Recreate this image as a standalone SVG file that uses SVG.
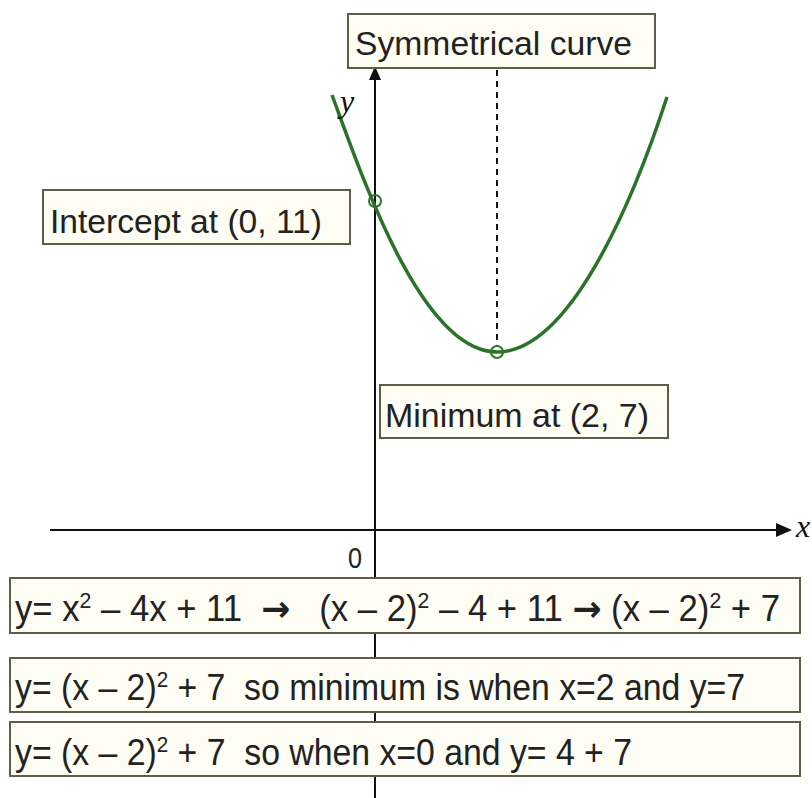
<svg xmlns="http://www.w3.org/2000/svg" width="812" height="798" viewBox="0 0 812 798">
<style>
.box{fill:#fdfdf3;stroke:#5e5e48;stroke-width:2}
.t{font-family:"Liberation Sans",Arial,sans-serif;fill:#222;font-size:33px}
.eq{font-family:"Liberation Sans",Arial,sans-serif;fill:#222;font-size:36px;white-space:pre}
.ax{stroke:#111;stroke-width:2;fill:none}
.lbl{font-family:"Liberation Serif","Times New Roman",serif;font-style:italic;font-size:32px;fill:#111}
.ar{font-weight:bold;font-family:"DejaVu Sans",sans-serif}
</style>
<rect width="812" height="798" fill="#ffffff"/>
<g id="connectors">
<line class="ax" x1="375" y1="798" x2="375" y2="80"/>
<path d="M375,66 L369,80 L381,80 z" fill="#111"/>
<line class="ax" x1="50" y1="530" x2="778" y2="530"/>
<path d="M792,530 L776,523 L776,537 z" fill="#111"/>
<line x1="497" y1="70" x2="497" y2="346" stroke="#111" stroke-width="2" stroke-dasharray="6,5"/>
</g>
<g id="curve">
<path d="M332,95 C360,170 420,352 497,352 C575,352 640,180 667,97" fill="none" stroke="#2a742a" stroke-width="3.5"/>
<circle cx="375" cy="201" r="6" fill="none" stroke="#2a742a" stroke-width="2"/>
<circle cx="497" cy="352" r="6" fill="none" stroke="#2a742a" stroke-width="2"/>
</g>
<g id="axis-labels">
<text class="lbl" x="340" y="112">y</text>
<text class="lbl" x="796" y="537">x</text>
<text x="348" y="568" font-family="Liberation Sans,Arial,sans-serif" font-size="30" fill="#222" textLength="14" lengthAdjust="spacingAndGlyphs">0</text>
</g>
<g id="symmetrical">
<rect class="box" x="348" y="14" width="307" height="54"/>
<text class="t" x="355" y="55" textLength="277" lengthAdjust="spacingAndGlyphs">Symmetrical curve</text>
</g>
<g id="intercept">
<rect class="box" x="43" y="190" width="307" height="54"/>
<text class="t" x="50" y="233" textLength="272" lengthAdjust="spacingAndGlyphs">Intercept at (0, 11)</text>
</g>
<g id="minimum">
<rect class="box" x="380" y="385" width="288" height="53"/>
<text class="t" x="385" y="427" textLength="264" lengthAdjust="spacingAndGlyphs">Minimum at (2, 7)</text>
</g>
<g id="eq1">
<rect class="box" x="10" y="578" width="790" height="55"/>
<text class="eq" x="15" y="621" textLength="765" lengthAdjust="spacingAndGlyphs">y= x<tspan font-size="22" dy="-13">2</tspan><tspan dy="13"> – 4x + 11  </tspan><tspan class="ar">→</tspan><tspan>   (x – 2)</tspan><tspan font-size="22" dy="-13">2</tspan><tspan dy="13"> – 4 + 11 </tspan><tspan class="ar">→</tspan><tspan> (x – 2)</tspan><tspan font-size="22" dy="-13">2</tspan><tspan dy="13"> + 7</tspan></text>
</g>
<g id="eq2">
<rect class="box" x="10" y="658" width="790" height="54"/>
<text class="eq" x="15" y="700" textLength="730" lengthAdjust="spacingAndGlyphs">y= (x – 2)<tspan font-size="22" dy="-13">2</tspan><tspan dy="13"> + 7  so minimum is when x=2 and y=7</tspan></text>
</g>
<g id="eq3">
<rect class="box" x="10" y="722" width="790" height="54"/>
<text class="eq" x="15" y="765" textLength="617" lengthAdjust="spacingAndGlyphs">y= (x – 2)<tspan font-size="22" dy="-13">2</tspan><tspan dy="13"> + 7  so when x=0 and y= 4 + 7</tspan></text>
</g>
</svg>
